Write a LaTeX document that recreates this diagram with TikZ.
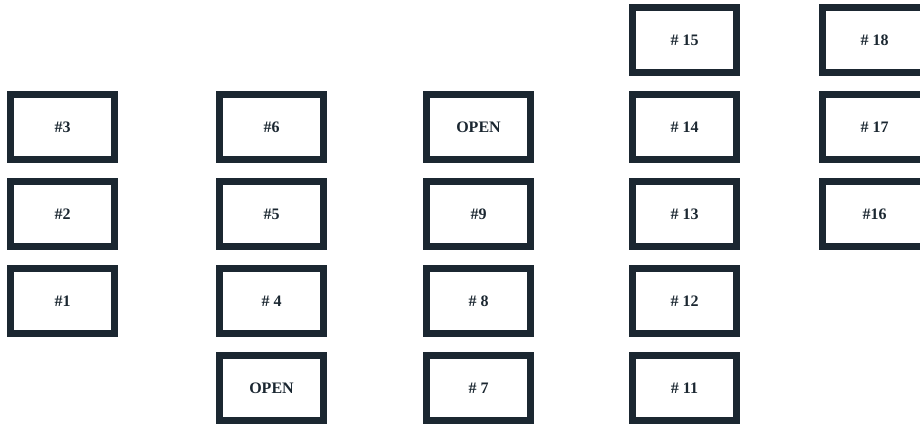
\documentclass[tikz,border=0pt]{standalone}
\usepackage{fontspec}
\setmainfont{Liberation Serif}
\definecolor{boxc}{HTML}{1B2731}
\begin{document}
\begin{tikzpicture}[x=1pt,y=-1pt,
  slot/.style={draw=boxc,line width=7pt,minimum width=104pt,minimum height=65pt,inner sep=0pt,
    text=boxc,font=\fontsize{16}{18}\selectfont\bfseries}]
\useasboundingbox (0,0) rectangle (920,423);
\clip (0,0) rectangle (920,423);
% column 1
\node[slot] (n3) at (62.5,127) {\#3};
\node[slot] (n2) at (62.5,214) {\#2};
\node[slot] (n1) at (62.5,301) {\#1};
% column 2
\node[slot] (n6) at (271.5,127) {\#6};
\node[slot] (n5) at (271.5,214) {\#5};
\node[slot] (n4) at (271.5,301) {\# 4};
\node[slot] (o1) at (271.5,388) {OPEN};
% column 3
\node[slot] (o2) at (478.5,127) {OPEN};
\node[slot] (n9) at (478.5,214) {\#9};
\node[slot] (n8) at (478.5,301) {\# 8};
\node[slot] (n7) at (478.5,388) {\# 7};
% column 4
\node[slot] (n15) at (684.5,40) {\# 15};
\node[slot] (n14) at (684.5,127) {\# 14};
\node[slot] (n13) at (684.5,214) {\# 13};
\node[slot] (n12) at (684.5,301) {\# 12};
\node[slot] (n11) at (684.5,388) {\# 11};
% column 5
\node[slot] (n18) at (874.5,40) {\# 18};
\node[slot] (n17) at (874.5,127) {\# 17};
\node[slot] (n16) at (874.5,214) {\#16};
\end{tikzpicture}
\end{document}
